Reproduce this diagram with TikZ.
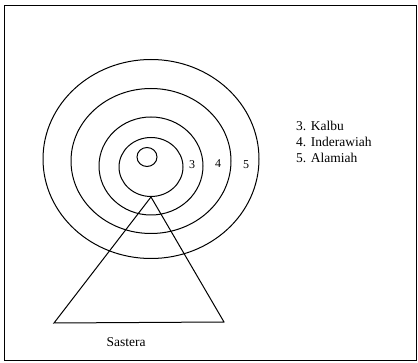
\documentclass[tikz,border=0pt]{standalone}
\usepackage{fontspec}
\setmainfont{Liberation Serif}
\usetikzlibrary{shapes.geometric}

\tikzset{
    ring/.style={ellipse, draw, line width=1pt, inner sep=0pt},
    nummer/.style={font=\fontsize{12}{14}\selectfont, inner sep=0pt},
    teks/.style={font=\fontsize{13.5}{16}\selectfont, inner sep=0pt, anchor=west}
}

\begin{document}
\begin{tikzpicture}[x=1pt, y=-1pt]
    \useasboundingbox (0,0) rectangle (418,363);
    \draw[line width=0.8pt] (4,5) rectangle (416,360);
    \path node[ring, minimum width=216pt, minimum height=199pt] (R5) at (151,159) {}
        node[ring, minimum width=160pt, minimum height=145pt] (R4) at (151,161) {}
        node[ring, minimum width=104pt, minimum height=98pt] (R3) at (151,166) {}
        node[ring, minimum width=64pt, minimum height=59pt] (R2) at (151,167) {}
        node[ring, minimum width=20pt, minimum height=19pt] (R1) at (147,157) {};
    \path node[nummer] (n3) at (192,165) {3}
        node[nummer] (n4) at (218,164) {4}
        node[nummer] (n5) at (246,165) {5};
    \path node[teks] (k3) at (296,126) {3. Kalbu}
        node[teks] (k4) at (296,142) {4. Inderawiah}
        node[teks] (k5) at (296,158) {5. Alamiah};
    % segitiga
    \coordinate (kiri) at (54,323);
    \coordinate (kanan) at (224,322);
    \draw[line width=1pt, line join=miter] (R2.south) -- (kiri) -- (kanan) -- cycle;
    \node[teks, anchor=center] (sastera) at (126,342) {Sastera};
\end{tikzpicture}
\end{document}
